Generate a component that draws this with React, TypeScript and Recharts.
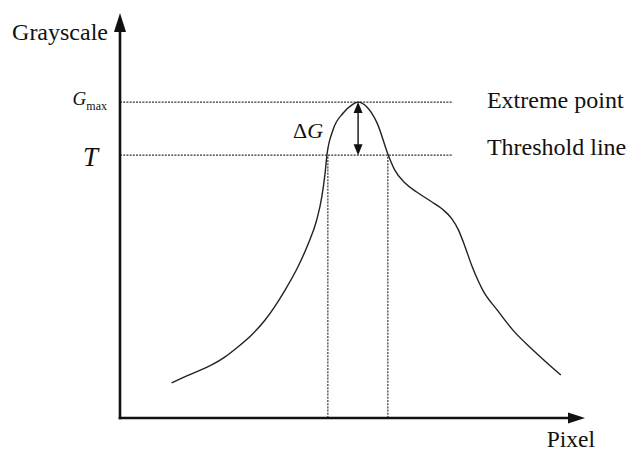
import { ComposedChart, Line, ReferenceLine, XAxis, YAxis } from 'recharts';

// profile of grey levels along the pixel axis (0..100 in both directions)
const curveX = [11.1, 14.0, 16.8, 19.7, 22.6, 25.4, 28.3, 31.2, 35.5, 38.3, 40.5, 42.3, 43.4, 44.1, 44.5, 45.8, 48.0, 49.9, 51.2, 53.1, 55.3, 57.7, 59.1, 61.3, 64.2, 67.0, 69.5, 71.3, 72.8, 74.2, 75.6, 77.1, 78.1, 81.1, 84.5, 88.8, 94.8];
const curveY = [8.7, 10.2, 11.6, 13.1, 15.1, 17.6, 20.5, 24.2, 31.6, 37.4, 43.1, 48.9, 54.6, 60.4, 64.9, 71.1, 75.3, 77.3, 78.0, 76.8, 72.8, 64.9, 61.2, 58.0, 55.5, 53.4, 51.4, 49.3, 46.4, 42.3, 37.8, 33.7, 31.4, 26.7, 21.7, 16.8, 10.6];

const gMax = 78;
const threshold = 64.9;
const peakX = 51.2;
const leftCross = 44.7;
const rightCross = 57.6;
const guideEnd = 71.6;

const data = curveX.map((x, i) => ({ x, y: curveY[i] }));

const font = '"Liberation Serif", "Times New Roman", serif';
const ink = '#111';

function head(tx: number, ty: number, fx: number, fy: number, len: number, hw: number) {
  const d = Math.hypot(tx - fx, ty - fy) || 1;
  const ux = (tx - fx) / d;
  const uy = (ty - fy) / d;
  const bx = tx - ux * len;
  const by = ty - uy * len;
  return `${tx},${ty} ${bx - uy * hw},${by + ux * hw} ${bx + uy * hw},${by - ux * hw}`;
}

function arrow(len: number, hw: number, width: number, both = false) {
  return (p: any) => {
    const { x1, y1, x2, y2 } = p;
    const d = Math.hypot(x2 - x1, y2 - y1) || 1;
    const ux = (x2 - x1) / d;
    const uy = (y2 - y1) / d;
    const sx = both ? x1 + ux * (len - 1) : x1;
    const sy = both ? y1 + uy * (len - 1) : y1;
    return (
      <g>
        <line x1={sx} y1={sy} x2={x2 - ux * (len - 1)} y2={y2 - uy * (len - 1)} stroke={ink} strokeWidth={width} strokeLinecap={both ? 'butt' : 'square'} />
        <polygon points={head(x2, y2, x1, y1, len, hw)} fill={ink} />
        {both && <polygon points={head(x1, y1, x2, y2, len, hw)} fill={ink} />}
      </g>
    );
  };
}

const txt = { fontFamily: font, fill: ink };

export default function App() {
  return (
    <div>
      <style>{'body{margin:0}'}</style>
      <ComposedChart width={628} height={452} data={data} margin={{ top: 13, right: 43, bottom: 34, left: 120 }}>
        <XAxis type="number" dataKey="x" domain={[0, 100]} hide />
        <YAxis type="number" domain={[0, 100]} hide />

        <ReferenceLine
          segment={[{ x: 0, y: gMax }, { x: guideEnd, y: gMax }]}
          stroke="#333"
          strokeWidth={1.2}
          strokeDasharray="2 1.2"
          label={(p: any) => (
            <g>
              <text x={p.viewBox.x - 13} y={p.viewBox.y + 3} textAnchor="end" style={txt}>
                <tspan fontSize={19} fontStyle="italic">G</tspan>
                <tspan fontSize={12} dy={5}>max</tspan>
              </text>
              <text x={p.viewBox.x + p.viewBox.width + 34} y={p.viewBox.y + 6} fontSize={24} style={txt}>Extreme point</text>
            </g>
          )}
        />
        <ReferenceLine
          segment={[{ x: 0, y: threshold }, { x: guideEnd, y: threshold }]}
          stroke="#333"
          strokeWidth={1.2}
          strokeDasharray="2 1.2"
          label={(p: any) => (
            <g>
              <text x={p.viewBox.x - 22} y={p.viewBox.y + 11} textAnchor="end" fontSize={27} fontStyle="italic" style={txt}>T</text>
              <text x={p.viewBox.x + p.viewBox.width + 34} y={p.viewBox.y} fontSize={24} style={txt}>Threshold line</text>
            </g>
          )}
        />
        <ReferenceLine segment={[{ x: leftCross, y: 0 }, { x: leftCross, y: threshold }]} stroke="#333" strokeWidth={1.2} strokeDasharray="2 1.2" />
        <ReferenceLine segment={[{ x: rightCross, y: 0 }, { x: rightCross, y: threshold }]} stroke="#333" strokeWidth={1.2} strokeDasharray="2 1.2" />

        <ReferenceLine
          segment={[{ x: peakX, y: gMax }, { x: peakX, y: threshold }]}
          shape={arrow(11, 4.5, 1.4, true)}
          label={(p: any) => (
            <text x={p.viewBox.x - 35} y={p.viewBox.y + 36} textAnchor="end" fontSize={22} style={txt}>
              <tspan>Δ</tspan>
              <tspan fontStyle="italic">G</tspan>
            </text>
          )}
        />

        <ReferenceLine
          segment={[{ x: 0, y: 0 }, { x: 0, y: 100 }]}
          shape={arrow(19, 6, 2.6)}
          label={(p: any) => (
            <text x={p.viewBox.x - 12} y={p.viewBox.y + 27} textAnchor="end" fontSize={24} style={txt}>Grayscale</text>
          )}
        />
        <ReferenceLine
          segment={[{ x: 0, y: 0 }, { x: 100, y: 0 }]}
          shape={arrow(17, 5.5, 2.6)}
          label={(p: any) => (
            <text x={p.viewBox.x + p.viewBox.width + 10} y={p.viewBox.y + 29} textAnchor="end" fontSize={23.5} style={txt}>Pixel</text>
          )}
        />

        <Line type="monotone" dataKey="y" stroke="#222" strokeWidth={1.4} dot={false} isAnimationActive={false} />
      </ComposedChart>
    </div>
  );
}
